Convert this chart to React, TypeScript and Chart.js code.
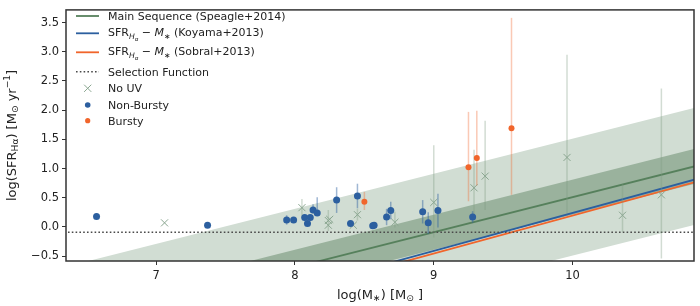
import React, { useEffect, useRef } from 'react';
import { Chart, registerables } from 'chart.js';
Chart.register(...registerables);

// ---- axis ranges & ticks ----
const X_MIN = 6.35;
const X_MAX = 10.875;
const Y_MIN = -0.583;
const Y_MAX = 3.716;
const xTicks = [7, 8, 9, 10];
const yTicks = [-0.5, 0, 0.5, 1, 1.5, 2, 2.5, 3, 3.5];

// ---- relations (values at the two end masses) ----
const lineMass = [6.2, 11.0];
const mainSeq = [-1.77, 1.11];
const msInnerHi = [-1.47, 1.41];
const msInnerLo = [-2.07, 0.81];
const msOuterHi = [-0.77, 2.11];
const msOuterLo = [-2.77, 0.11];
const koyama = [-2.23, 0.89];
const sobral = [-2.275, 0.845];
const selection = [-0.09, -0.09];

// ---- No UV ----
const noUvMass = [7.06, 8.05, 8.24, 8.25, 8.24, 8.42, 8.45, 8.72, 9.0, 9.29, 9.37, 9.96, 10.36, 10.64];
const noUvSfr = [0.07, 0.33, 0.11, 0.13, 0.03, 0.03, 0.21, 0.08, 0.42, 0.67, 0.87, 1.19, 0.2, 0.55];
const noUvLo = [0, 0.15, 0.18, 0, 0, 0, 0.1, 0.09, 0.6, 0.46, 0.58, 0.95, 0.29, 1.09];
const noUvHi = [0, 0.15, 0.18, 0, 0, 0, 0.1, 0.18, 0.98, 0.65, 0.95, 1.76, 0.53, 1.82];

// ---- Non-Bursty ----
const nbMass = [6.57, 7.37, 7.94, 7.99, 8.07, 8.09, 8.11, 8.13, 8.16, 8.3, 8.4, 8.45, 8.56, 8.57, 8.66, 8.69, 8.92, 8.96, 9.03, 9.28];
const nbSfr = [0.18, 0.03, 0.12, 0.12, 0.16, 0.06, 0.16, 0.29, 0.24, 0.46, 0.06, 0.53, 0.02, 0.03, 0.17, 0.28, 0.26, 0.07, 0.28, 0.17];
const nbLo = [0, 0, 0.08, 0, 0, 0.05, 0, 0.06, 0.05, 0.22, 0, 0.21, 0, 0, 0.14, 0.15, 0.2, 0.19, 0.29, 0.1];
const nbHi = [0, 0, 0.08, 0, 0, 0.05, 0, 0.1, 0.27, 0.22, 0, 0.21, 0, 0, 0.14, 0.15, 0.2, 0.18, 0.29, 0.1];

// ---- Bursty ----
const bMass = [8.5, 9.25, 9.31, 9.56];
const bSfr = [0.43, 1.02, 1.18, 1.69];
const bLo = [0.14, 0.58, 0.47, 1.14];
const bHi = [0.17, 0.95, 0.81, 1.89];

const FONT = '"DejaVu Sans"';
const C_LIGHT = '#d1ddd3';
const C_DARK = '#9ab29d';
const C_MS = '#56805c';
const C_BLUE = '#2c5f9f';
const C_ORANGE = '#f1652b';
const C_X = '#8aa690';
const TXT = '#222222';

const pts = (xs: number[], ys: number[]) => xs.map((x, i) => ({ x, y: ys[i] }));

type Seg = { t: string; k?: 'sub' | 'sup' | 'subsub'; it?: boolean };

function drawRich(ctx: CanvasRenderingContext2D, segs: Seg[], x: number, y: number, size: number, align: 'left' | 'center', rot = 0) {
  const spec = (s: Seg) => {
    let sz = size;
    let dy = 0;
    if (s.k === 'sub') { sz = size * 0.7; dy = size * 0.22; }
    else if (s.k === 'sup') { sz = size * 0.7; dy = -size * 0.42; }
    else if (s.k === 'subsub') { sz = size * 0.5; dy = size * 0.4; }
    return { font: `${s.it ? 'italic ' : ''}${sz}px ${FONT}`, dy };
  };
  ctx.save();
  ctx.translate(x, y);
  if (rot) ctx.rotate(rot);
  let w = 0;
  for (const s of segs) { ctx.font = spec(s).font; w += ctx.measureText(s.t).width; }
  let cx = align === 'center' ? -w / 2 : 0;
  ctx.textBaseline = 'alphabetic';
  ctx.textAlign = 'left';
  ctx.fillStyle = TXT;
  for (const s of segs) {
    const sp = spec(s);
    ctx.font = sp.font;
    ctx.fillText(s.t, cx, sp.dy);
    cx += ctx.measureText(s.t).width;
  }
  ctx.restore();
}

const errorBarPlugin = {
  id: 'errbars',
  beforeDatasetDraw(chart: any, args: any) {
    const ds: any = chart.data.datasets[args.index];
    if (!ds.errLo) return;
    const { ctx, chartArea: a } = chart;
    const xs = chart.scales.x;
    const ys = chart.scales.y;
    ctx.save();
    ctx.beginPath();
    ctx.rect(a.left, a.top, a.right - a.left, a.bottom - a.top);
    ctx.clip();
    ctx.strokeStyle = ds.errColor;
    ctx.lineWidth = 1.5;
    ds.data.forEach((p: any, i: number) => {
      const lo = ds.errLo[i];
      const hi = ds.errHi[i];
      if (!lo && !hi) return;
      const px = xs.getPixelForValue(p.x);
      ctx.beginPath();
      ctx.moveTo(px, ys.getPixelForValue(p.y - lo));
      ctx.lineTo(px, ys.getPixelForValue(p.y + hi));
      ctx.stroke();
    });
    ctx.restore();
  },
};

const decorPlugin = {
  id: 'decor',
  afterDraw(chart: any) {
    const { ctx, chartArea: a } = chart;
    // frame
    ctx.save();
    ctx.strokeStyle = '#333333';
    ctx.lineWidth = 1.5;
    ctx.strokeRect(a.left, a.top, a.right - a.left, a.bottom - a.top);
    ctx.restore();

    // axis titles
    drawRich(ctx, [
      { t: 'log(M' }, { t: '∗', k: 'sub' }, { t: ') [M' }, { t: '⊙', k: 'sub' }, { t: ' ]' },
    ], (a.left + a.right) / 2, 298.5, 13, 'center');
    drawRich(ctx, [
      { t: 'log(SFR' }, { t: 'Hα', k: 'sub' }, { t: ') [M' }, { t: '⊙', k: 'sub' }, { t: ' yr' }, { t: '−1', k: 'sup' }, { t: ']' },
    ], 15.5, (a.top + a.bottom) / 2, 13, 'center', -Math.PI / 2);

    // legend
    const rows = [16, 33.3, 52.3, 71.7, 88.3, 105, 120.7];
    const hx0 = 76;
    const hx1 = 99;
    const hc = 87.7;
    const tx = 108;
    ctx.save();
    const line = (y: number, color: string, dash: number[] = [], w = 1.8) => {
      ctx.beginPath();
      ctx.setLineDash(dash);
      ctx.strokeStyle = color;
      ctx.lineWidth = w;
      ctx.moveTo(hx0, y);
      ctx.lineTo(hx1, y);
      ctx.stroke();
      ctx.setLineDash([]);
    };
    line(rows[0], C_MS);
    line(rows[1], C_BLUE);
    line(rows[2], C_ORANGE);
    line(rows[3], '#4a4a4a', [1.6, 2.2], 1.6);
    // X marker
    ctx.strokeStyle = C_X;
    ctx.lineWidth = 1;
    const r = 3.6;
    ctx.beginPath();
    ctx.moveTo(hc - r, rows[4] - r); ctx.lineTo(hc + r, rows[4] + r);
    ctx.moveTo(hc - r, rows[4] + r); ctx.lineTo(hc + r, rows[4] - r);
    ctx.stroke();
    ctx.fillStyle = C_BLUE;
    ctx.beginPath(); ctx.arc(hc, rows[5], 2.8, 0, Math.PI * 2); ctx.fill();
    ctx.fillStyle = C_ORANGE;
    ctx.beginPath(); ctx.arc(hc, rows[6], 2.6, 0, Math.PI * 2); ctx.fill();
    ctx.restore();

    const fs = 11;
    const bl = 4;
    drawRich(ctx, [{ t: 'Main Sequence (Speagle+2014)' }], tx, rows[0] + bl, fs, 'left');
    drawRich(ctx, [
      { t: 'SFR' }, { t: 'H', k: 'sub', it: true }, { t: 'α', k: 'subsub', it: true }, { t: ' − ' }, { t: 'M', it: true }, { t: '∗', k: 'sub' }, { t: ' (Koyama+2013)' },
    ], tx, rows[1] + bl - 1, fs, 'left');
    drawRich(ctx, [
      { t: 'SFR' }, { t: 'H', k: 'sub', it: true }, { t: 'α', k: 'subsub', it: true }, { t: ' − ' }, { t: 'M', it: true }, { t: '∗', k: 'sub' }, { t: ' (Sobral+2013)' },
    ], tx, rows[2] + bl - 1, fs, 'left');
    drawRich(ctx, [{ t: 'Selection Function' }], tx, rows[3] + bl, fs, 'left');
    drawRich(ctx, [{ t: 'No UV' }], tx, rows[4] + bl, fs, 'left');
    drawRich(ctx, [{ t: 'Non-Bursty' }], tx, rows[5] + bl, fs, 'left');
    drawRich(ctx, [{ t: 'Bursty' }], tx, rows[6] + bl, fs, 'left');
  },
};

export default function App() {
  const ref = useRef<HTMLCanvasElement | null>(null);
  useEffect(() => {
    if (!ref.current) return;
    const lineDs = (data: number[], color: string, extra: any = {}) => ({
      type: 'line' as const,
      data: pts(lineMass, data),
      borderColor: color,
      borderWidth: 1.8,
      pointRadius: 0,
      fill: false,
      tension: 0,
      ...extra,
    });
    const datasets: any[] = [
      lineDs(msOuterLo, 'rgba(0,0,0,0)', { borderWidth: 0 }),
      lineDs(msOuterHi, 'rgba(0,0,0,0)', { borderWidth: 0, fill: '-1', backgroundColor: C_LIGHT }),
      lineDs(msInnerLo, 'rgba(0,0,0,0)', { borderWidth: 0 }),
      lineDs(msInnerHi, 'rgba(0,0,0,0)', { borderWidth: 0, fill: '-1', backgroundColor: C_DARK }),
      lineDs(mainSeq, C_MS),
      lineDs(koyama, C_BLUE),
      lineDs(sobral, C_ORANGE),
      lineDs(selection, '#4a4a4a', { borderWidth: 1.6, borderDash: [1.6, 2.2] }),
      {
        type: 'scatter',
        data: pts(noUvMass, noUvSfr),
        pointStyle: 'crossRot',
        pointRadius: 5,
        borderColor: C_X,
        backgroundColor: C_X,
        borderWidth: 1,
        errLo: noUvLo, errHi: noUvHi, errColor: 'rgba(125,155,130,0.35)',
      },
      {
        type: 'scatter',
        data: pts(nbMass, nbSfr),
        pointStyle: 'circle',
        pointRadius: 3.5,
        borderWidth: 0,
        backgroundColor: C_BLUE,
        errLo: nbLo, errHi: nbHi, errColor: 'rgba(44,95,159,0.45)',
      },
      {
        type: 'scatter',
        data: pts(bMass, bSfr),
        pointStyle: 'circle',
        pointRadius: 3,
        borderWidth: 0,
        backgroundColor: C_ORANGE,
        errLo: bLo, errHi: bHi, errColor: 'rgba(241,101,43,0.35)',
      },
    ];
    datasets.forEach((d, i) => { d.order = datasets.length - i; });

    const tickFont = { family: FONT, size: 11.5 };
    const chart = new Chart(ref.current, {
      type: 'scatter',
      data: { datasets },
      plugins: [errorBarPlugin, decorPlugin],
      options: {
        animation: false,
        responsive: false,
        devicePixelRatio: 1,
        layout: { padding: { top: 2, right: 3, left: 0, bottom: 0 } },
        plugins: { legend: { display: false }, tooltip: { enabled: false } },
        scales: {
          x: {
            type: 'linear',
            min: X_MIN,
            max: X_MAX,
            afterBuildTicks: (s: any) => { s.ticks = xTicks.map((v) => ({ value: v })); },
            afterFit: (s: any) => { s.height = 45; },
            ticks: { font: tickFont, color: TXT, padding: 4, callback: (v: any) => String(v) },
            grid: { display: true, drawOnChartArea: false, drawTicks: true, tickLength: 4, tickColor: '#333333', tickWidth: 1 },
            border: { display: false },
          },
          y: {
            type: 'linear',
            min: Y_MIN,
            max: Y_MAX,
            afterBuildTicks: (s: any) => { s.ticks = yTicks.map((v) => ({ value: v })); },
            afterFit: (s: any) => { s.width = 66; },
            ticks: { font: tickFont, color: TXT, padding: 3, callback: (v: any) => Number(v).toFixed(1).replace('-', '−') },
            grid: { display: true, drawOnChartArea: false, drawTicks: true, tickLength: 4, tickColor: '#333333', tickWidth: 1 },
            border: { display: false },
          },
        },
      } as any,
    });
    return () => chart.destroy();
  }, []);
  return (
    <div style={{ position: 'fixed', left: 0, top: 0, width: 700, height: 306, background: '#fff' }}>
      <canvas ref={ref} width={700} height={306} />
    </div>
  );
}
